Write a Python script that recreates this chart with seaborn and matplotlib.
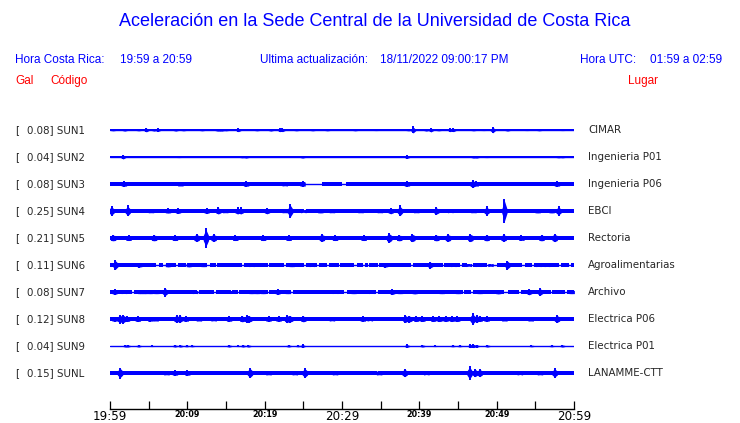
import numpy as np
import pandas as pd
import seaborn as sns
import matplotlib.pyplot as plt

sns.set_style("white")
plt.rcParams["font.family"] = ["DejaVu Sans"]

BLUE = "#0000ff"
RED = "#ff0000"

codes = ["SUN1", "SUN2", "SUN3", "SUN4", "SUN5", "SUN6", "SUN7", "SUN8", "SUN9", "SUNL"]
places = ["CIMAR", "Ingenieria P01", "Ingenieria P06", "EBCI", "Rectoria",
          "Agroalimentarias", "Archivo", "Electrica P06", "Electrica P01", "LANAMME-CTT"]
gal = [0.08, 0.04, 0.08, 0.25, 0.21, 0.11, 0.08, 0.12, 0.04, 0.15]

# background noise level of each trace (half width, screen px)
noise = [0.5, 0.5, 2.0, 1.8, 2.4, 1.6, 1.6, 2.1, 0.5, 2.0]

# bursts: (minutes after 19:59, half amplitude in px)
sun1_bursts = [(0.4, 1.0), (1.9, 1.3), (3.7, 1.0), (4.7, 2.2), (5.7, 1.3), (6.2, 1.7), (8.5, 1.3),
               (9.5, 1.0), (11.9, 1.0), (13.9, 1.3), (14.2, 1.3), (14.5, 1.3), (15.0, 1.0), (16.6, 2.0),
               (19.0, 1.0), (20.8, 1.3), (22.0, 2.0), (22.3, 2.0), (24.1, 1.0), (26.2, 1.0), (28.1, 1.0),
               (31.7, 1.0), (34.4, 0.7), (38.6, 1.0), (39.2, 3.5), (40.9, 1.3), (41.5, 2.3), (42.5, 1.0),
               (44.0, 2.0), (44.4, 2.0), (47.0, 1.0), (48.3, 0.7), (49.5, 3.3), (51.4, 1.3), (53.9, 0.7),
               (55.5, 1.0), (58.5, 0.7)]
sun2_bursts = [(1.7, 2.3), (8.9, 0.7), (17.1, 1.0), (17.6, 1.3), (24.9, 1.3), (38.4, 1.7),
               (47.0, 1.3), (47.4, 1.3), (48.7, 0.7), (58.0, 1.0), (58.5, 1.0)]
sun3_bursts = [(1.8, 2.7), (9.1, 2.3), (17.6, 2.7), (22.6, 2.0), (24.9, 2.7), (38.4, 2.7),
               (46.9, 4.0), (47.3, 2.5), (57.8, 2.7)]
sun4_bursts = [(0.2, 5.0), (2.3, 5.5), (5.3, 2.0), (7.5, 2.5), (8.8, 3.0), (12.5, 3.0), (14.0, 3.5),
               (14.9, 2.0), (16.5, 3.5), (16.9, 3.5), (20.3, 3.3), (22.6, 2.0), (23.3, 7.0), (25.0, 1.5),
               (27.2, 2.3), (28.7, 2.0), (32.4, 2.0), (34.9, 2.0), (36.3, 3.3), (37.5, 5.5), (39.6, 2.0),
               (42.2, 3.7), (44.0, 1.5), (47.0, 2.0), (48.7, 4.5), (51.0, 12.0), (55.3, 2.3),
               (57.1, 2.3), (58.0, 4.7)]
sun5_bursts = [(0.4, 3.3), (2.4, 3.0), (5.7, 3.3), (8.4, 3.0), (11.2, 4.0), (12.4, 10.0), (13.4, 4.0),
               (16.2, 3.0), (19.8, 3.0), (23.1, 3.0), (27.4, 4.0), (29.1, 3.0), (32.8, 3.0), (36.1, 5.0),
               (37.4, 3.3), (39.1, 4.3), (42.2, 3.3), (43.7, 4.0), (46.6, 4.3), (48.7, 3.3), (50.9, 3.7),
               (53.2, 2.7), (55.8, 3.3), (57.5, 4.3)]
sun6_bursts = [(0.7, 5.0), (3.8, 2.5), (7.5, 2.3), (10.2, 2.3), (12.1, 2.0), (18.3, 1.7), (23.5, 2.0),
               (26.1, 1.7), (35.6, 2.5), (41.4, 3.5), (44.4, 1.7), (46.4, 1.3), (47.6, 1.5), (49.2, 1.3),
               (51.4, 4.5), (55.4, 1.7), (56.5, 1.7)]
sun7_bursts = [(0.6, 3.0), (1.8, 1.7), (3.9, 2.0), (4.5, 2.0), (5.2, 2.0), (6.0, 2.0), (7.1, 4.5),
               (11.0, 1.7), (15.9, 1.5), (18.3, 2.0), (19.0, 2.0), (19.8, 2.0), (21.7, 3.0), (23.0, 2.0),
               (29.1, 1.5), (31.5, 2.0), (33.8, 1.5), (36.5, 3.0), (37.5, 2.0), (39.4, 2.3), (42.9, 2.0),
               (45.0, 2.0), (47.8, 2.0), (50.2, 2.3), (54.2, 3.3), (55.6, 4.0), (59.7, 2.0)]
sun8_bursts = [(0.6, 2.5), (1.3, 4.5), (1.7, 4.5), (2.2, 3.0), (3.6, 3.0), (5.2, 2.5), (5.9, 2.3),
               (8.6, 4.0), (9.0, 4.0), (9.8, 2.7), (11.5, 2.3), (13.4, 2.0), (15.4, 2.7), (17.1, 3.3),
               (17.7, 4.0), (18.0, 3.5), (20.5, 2.7), (21.8, 2.7), (22.9, 4.3), (23.3, 3.5), (25.0, 3.3),
               (28.7, 2.0), (32.7, 2.7), (33.6, 1.7), (38.2, 4.0), (38.7, 3.5), (39.6, 3.0), (40.4, 3.0),
               (41.8, 3.0), (42.6, 3.0), (43.4, 3.0), (44.2, 3.0), (44.9, 3.0), (46.9, 6.0), (47.4, 4.0),
               (47.8, 3.0), (48.7, 2.7), (51.0, 2.3), (54.4, 2.3), (57.8, 4.0)]
sun9_bursts = [(2.0, 1.3), (2.3, 1.3), (3.7, 1.3), (5.4, 0.7), (8.4, 1.3), (9.1, 1.3), (9.9, 1.0),
               (10.6, 1.0), (15.4, 1.3), (16.6, 0.7), (17.2, 1.3), (17.9, 1.3), (23.1, 1.3), (24.3, 1.0),
               (24.9, 1.7), (38.4, 1.7), (40.4, 1.3), (42.0, 0.7), (44.3, 1.0), (45.2, 1.0), (46.6, 2.0),
               (47.0, 2.0), (47.4, 1.5), (48.8, 1.3), (54.5, 1.0), (57.1, 1.0), (58.5, 1.3)]
sunl_bursts = [(1.3, 5.5), (7.3, 2.0), (8.4, 2.7), (10.0, 2.7), (18.1, 5.3), (20.5, 2.0), (23.9, 2.0),
               (25.2, 5.0), (29.1, 2.0), (34.8, 2.0), (38.1, 4.3), (40.9, 1.7), (46.5, 7.0), (47.2, 4.3),
               (47.8, 4.3), (53.0, 1.7), (55.6, 2.0), (57.5, 4.7)]

# stretches where only the thin trace line is seen
sun3_gaps = [(25.2, 27.4), (30.0, 30.5)]
sun4_gaps = [(24.9, 25.3)]
sun6_gaps = [(6.0, 6.3), (6.9, 7.2), (8.5, 8.8), (9.8, 10.0), (12.6, 12.9), (13.7, 13.9), (17.1, 17.3),
             (20.4, 20.6), (22.5, 22.7), (25.1, 25.3), (26.8, 27.0), (28.1, 28.3), (29.6, 29.8),
             (31.6, 31.9), (32.7, 33.0), (33.3, 33.5), (34.6, 34.8), (38.9, 39.2), (43.0, 43.2),
             (45.2, 45.5), (46.1, 47.0), (48.7, 50.0), (53.3, 53.6), (54.6, 54.8), (58.1, 58.3),
             (59.4, 59.6)]
sun7_gaps = [(2.9, 3.1), (11.2, 11.5), (13.5, 13.7), (15.6, 15.8), (16.5, 16.7), (20.4, 20.6),
             (23.4, 23.6), (30.2, 30.6), (34.4, 34.6), (45.6, 45.8), (46.7, 46.9), (51.0, 51.5),
             (52.9, 53.1), (57.0, 57.2), (58.9, 59.1)]
sunl_gaps = [(34.5, 34.8)]

bursts = [sun1_bursts, sun2_bursts, sun3_bursts, sun4_bursts, sun5_bursts,
          sun6_bursts, sun7_bursts, sun8_bursts, sun9_bursts, sunl_bursts]
gaps = [[], [], sun3_gaps, sun4_gaps, [], sun6_gaps, sun7_gaps, [], [], sunl_gaps]

tick_minutes = [0, 10, 20, 30, 40, 50, 60]
tick_labels = ["19:59", "20:09", "20:19", "20:29", "20:39", "20:49", "20:59"]
big_labels = ["19:59", "20:29", "20:59"]

W, H = 740, 423
PX = 1.0 / 27  # one screen px in trace units


def fx(x):
    return x / W


def fy(y):
    return 1 - y / H


fig = plt.figure(figsize=(7.4, 4.23), dpi=100)
ax = fig.add_axes([fx(110), fy(386.5), 464 / W, 270 / H])

# thin trace lines
lines = pd.DataFrame({
    "minute": [0, 60] * len(codes),
    "row": np.repeat(np.arange(1, len(codes) + 1), 2),
    "code": np.repeat(codes, 2),
})
sns.lineplot(data=lines, x="minute", y="row", units="code", estimator=None,
             color=BLUE, lw=1.0, ax=ax, legend=False)

for i, code in enumerate(codes):
    row = i + 1
    b = noise[i] * PX
    # noise band, interrupted by the gaps
    start = 0.0
    for g0, g1 in sorted(gaps[i]) + [(60.0, 60.0)]:
        if g0 > start:
            ax.fill_between([start, g0], row - b, row + b, color=BLUE, lw=0)
        start = g1
    # bursts
    w = 0.35
    for t, a in bursts[i]:
        a = a * PX
        ax.fill_between([t - w, t, t + w], [row - b, row - a * 0.85, row - b],
                        [row + b, row + a * 0.85, row + b], color=BLUE, lw=0)
        ax.vlines(t, row - a, row + a, color=BLUE, lw=1.4)

ax.set_xlim(0, 60)
ax.set_ylim(10.5, 0.5)
ax.axis("off")

# station labels
for i, code in enumerate(codes):
    y = 130 + 27 * i
    fig.text(fx(15), fy(y), "[", fontsize=7.4, va="center", ha="left")
    fig.text(fx(27), fy(y), f"{gal[i]:.2f}] {code}", fontsize=7.4, va="center", ha="left")
    fig.text(fx(588), fy(y), places[i], fontsize=7.4, va="center", ha="left")

# time axis
tax = fig.add_axes([fx(110), fy(409), 464 / W, 20 / H])
tax.set_xlim(0, 60)
tax.set_yticks([])
for s in ["top", "left", "right"]:
    tax.spines[s].set_visible(False)
tax.spines["bottom"].set_linewidth(1.0)
tax.spines["bottom"].set_color("black")
tax.set_xticks(np.arange(0, 61, 5))
tax.set_xticklabels([tick_labels[tick_minutes.index(m)] if m in tick_minutes else "" for m in range(0, 61, 5)])
tax.tick_params(axis="x", direction="in", length=6, width=0.9, pad=0.5, colors="black", bottom=True)
for lab in tax.get_xticklabels():
    if lab.get_text() in big_labels:
        lab.set_fontsize(8.6)
    else:
        lab.set_fontsize(5.8)
        lab.set_fontweight("bold")
tax.patch.set_visible(False)

# header
hfont = ["Liberation Sans", "DejaVu Sans"]
fig.text(fx(375), fy(22), "Aceleración en la Sede Central de la Universidad de Costa Rica",
         fontsize=13, color=BLUE, ha="center", va="center", family=hfont)
fig.text(fx(15), fy(60), "Hora Costa Rica:", fontsize=8.5, color=BLUE, va="center", family=hfont)
fig.text(fx(120), fy(60), "19:59 a 20:59", fontsize=8.5, color=BLUE, va="center", family=hfont)
fig.text(fx(260), fy(60), "Ultima actualización:", fontsize=8.5, color=BLUE, va="center", family=hfont)
fig.text(fx(380), fy(60), "18/11/2022 09:00:17 PM", fontsize=8.5, color=BLUE, va="center", family=hfont)
fig.text(fx(580), fy(60), "Hora UTC:", fontsize=8.5, color=BLUE, va="center", family=hfont)
fig.text(fx(650), fy(60), "01:59 a 02:59", fontsize=8.5, color=BLUE, va="center", family=hfont)
fig.text(fx(15), fy(81), "Gal", fontsize=8.5, color=RED, va="center", family=hfont)
fig.text(fx(50), fy(81), "Código", fontsize=8.5, color=RED, va="center", family=hfont)
fig.text(fx(628), fy(81), "Lugar", fontsize=8.5, color=RED, va="center", family=hfont)

fig.savefig("out.png", dpi=100, facecolor="white")
